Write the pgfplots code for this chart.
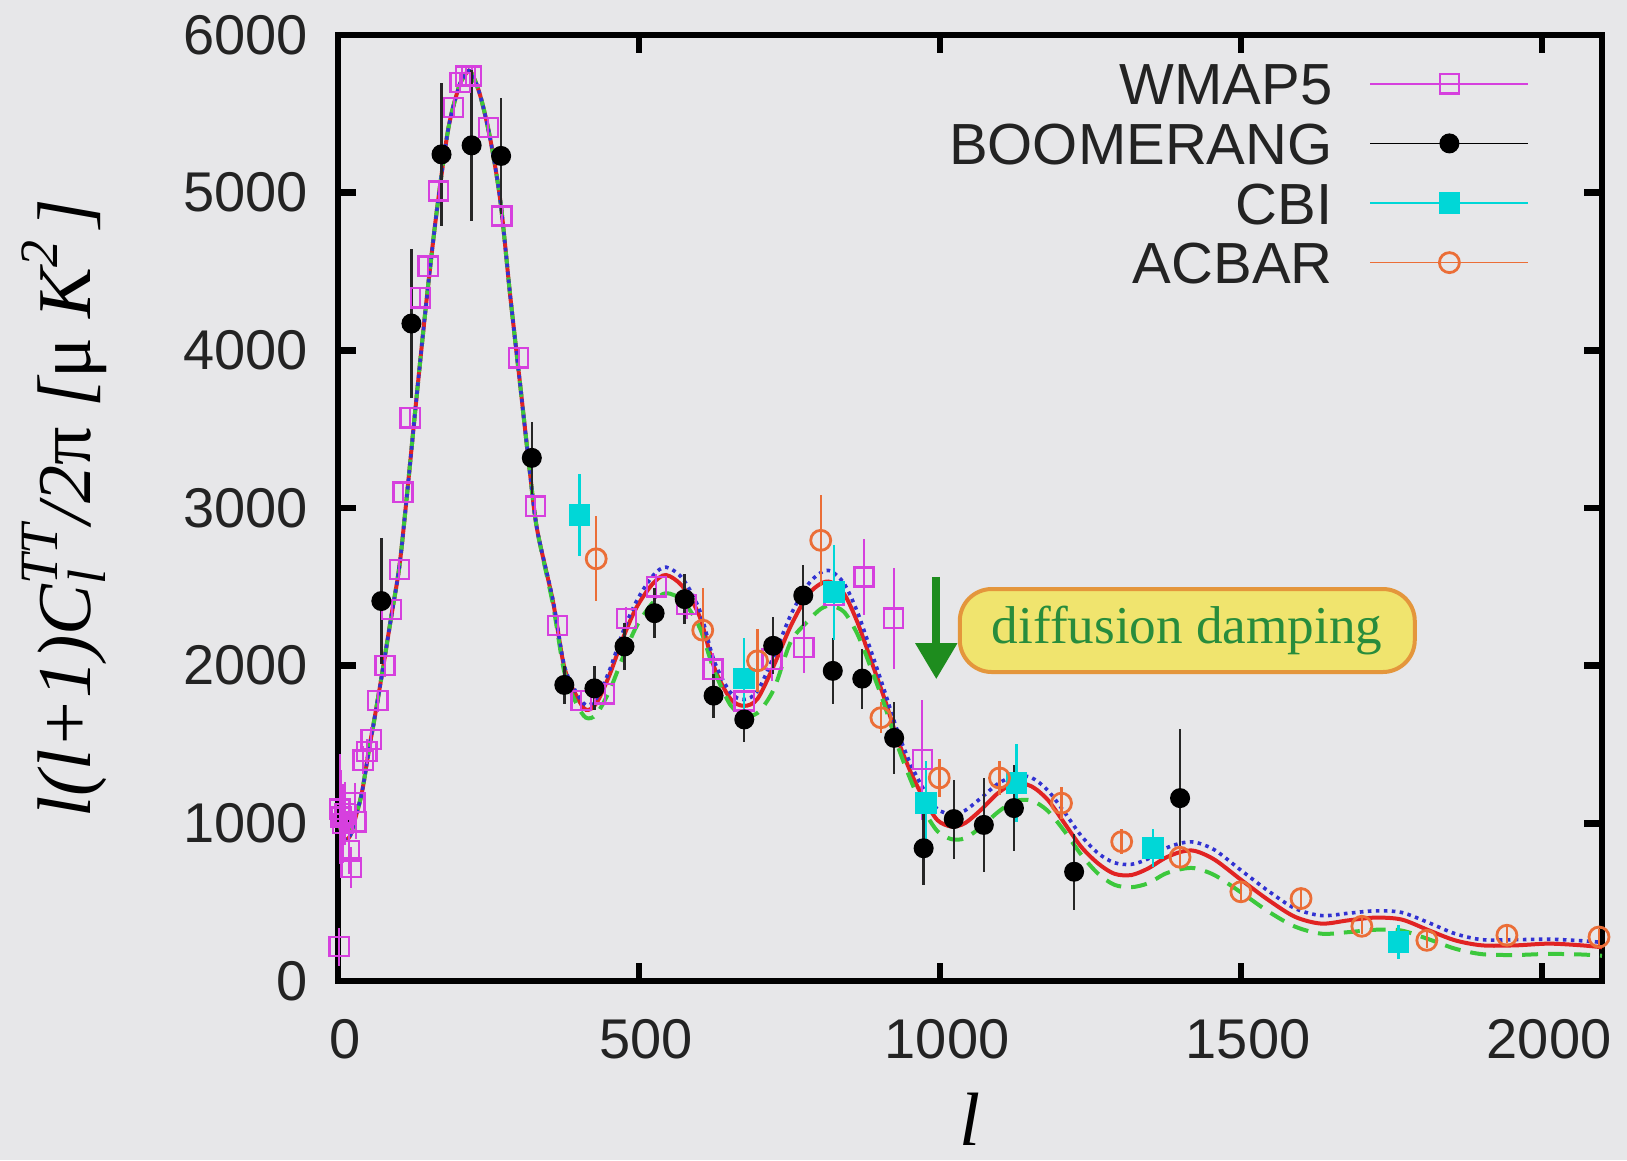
\documentclass[border=0pt]{standalone}
\usepackage{fontspec}
\setmainfont{Liberation Sans}
\newfontfamily\serif{Liberation Serif}
\usepackage{pgfplots}
\usepackage{pgfplotstable}
\pgfplotsset{compat=1.18}
\usetikzlibrary{arrows.meta}

\definecolor{bg}{RGB}{231,231,233}
\definecolor{wmap}{RGB}{214,64,222}
\definecolor{cbi}{RGB}{0,215,215}
\definecolor{acbar}{RGB}{235,110,55}
\definecolor{thred}{RGB}{225,35,35}
\definecolor{thblue}{RGB}{50,50,210}
\definecolor{thgreen}{RGB}{60,200,60}
\definecolor{ticktext}{RGB}{35,35,35}
\definecolor{anngreen}{RGB}{40,140,60}
\definecolor{boxfill}{RGB}{240,228,110}
\definecolor{boxedge}{RGB}{228,150,60}
\definecolor{arrgreen}{RGB}{30,140,30}

\pgfplotstableread{
l v e
2 218 120
3 1090 350
5 1040 300
8 1000 250
12 1060 200
19 826 150
22 720 130
28 1133 120
30 1010 110
42 1400 90
48 1456 80
55 1533 80
66 1778 70
78 2000 70
89 2356 60
102 2611 60
108 3100 60
120 3572 60
137 4333 60
150 4534 60
167 5011 60
192 5540 60
203 5698 60
212 5740 60
222 5740 60
250 5413 60
272 4852 60
300 3953 60
328 3011 60
365 2256 60
404 1778 60
443 1822 60
479 2300 70
529 2500 80
579 2389 90
623 1978 100
675 1776 120
721 2041 140
774 2116 160
824 2445 200
874 2562 240
923 2301 320
971 1404 380
}\wmapdata

\pgfplotstableread{
l v e
72 2410 400
122 4170 470
172 5243 455
222 5300 480
271 5233 370
322 3318 230
376 1878 120
426 1856 140
476 2122 150
526 2333 160
576 2422 160
624 1810 140
675 1659 140
723 2126 180
773 2445 195
822 1967 210
871 1918 190
924 1542 230
973 842 230
1023 1027 250
1073 990 300
1123 1097 270
1223 693 240
1399 1160 440
}\boomdata

\pgfplotstableread{
l v e
401 2955 260
675 1918 260
824 2466 300
977 1128 270
1127 1256 250
1354 842 120
1762 247 110
}\cbidata

\pgfplotstableread{
l v e
429 2678 270
606 2225 270
697 2031 200
802 2795 290
902 1670 100
999 1288 120
1099 1288 110
1202 1128 100
1302 884 80
1399 785 70
1500 566 60
1600 523 60
1701 347 50
1809 258 50
1942 290 50
2095 279 50
}\acbardata

\pgfplotstableread{
l r b g
2 1000 1000 1000
10 900 900 900
20 920 920 920
30 1050 1050 1050
40 1200 1200 1200
52 1480 1480 1480
60 1650 1650 1650
72 1920 1920 1920
88 2300 2300 2300
102 2630 2630 2630
114 3060 3060 3060
131 3720 3720 3720
148 4350 4350 4350
164 4880 4880 4880
183 5400 5400 5400
200 5660 5660 5660
210 5740 5740 5740
220 5770 5770 5770
236 5620 5620 5620
253 5340 5340 5340
270 4940 4940 4940
286 4350 4350 4350
303 3770 3770 3770
319 3220 3220 3220
331 2860 2860 2860
357 2410 2420 2390
376 1990 2000 1960
396 1810 1830 1760
412 1720 1750 1670
429 1760 1790 1690
451 1940 1970 1840
473 2170 2210 2050
496 2370 2410 2250
523 2520 2570 2400
545 2575 2625 2460
573 2500 2550 2410
601 2310 2350 2240
625 1990 2030 1970
652 1790 1830 1750
675 1745 1785 1690
697 1790 1840 1700
724 2000 2060 1850
752 2250 2320 2150
780 2445 2510 2280
802 2520 2590 2360
819 2530 2600 2380
841 2455 2520 2340
863 2275 2340 2200
885 2040 2100 1990
908 1790 1840 1750
930 1530 1580 1490
952 1320 1370 1270
974 1150 1210 1080
996 1020 1090 950
1019 980 1060 900
1041 1000 1080 905
1068 1085 1160 975
1096 1190 1250 1070
1124 1255 1300 1140
1152 1235 1290 1145
1179 1150 1210 1080
1207 1000 1070 950
1235 850 920 800
1263 745 810 680
1290 680 750 610
1318 672 740 595
1346 714 775 620
1374 780 840 680
1401 820 875 710
1424 825 880 715
1457 768 830 670
1501 640 700 560
1546 513 570 440
1590 407 460 345
1634 364 415 300
1679 385 430 310
1723 402 445 325
1767 390 435 320
1812 322 370 265
1856 258 300 205
1901 226 262 170
1956 226 262 165
2012 237 265 172
2067 226 255 168
2100 214 245 160
}\theory

\begin{document}
\begin{tikzpicture}
\fill[bg] (-84.5pt,-44.75pt) rectangle (322.25pt,245.25pt);
\begin{axis}[
  scale only axis,
  width=316pt, height=236.5pt,
  at={(0pt,0pt)}, anchor=south west,
  xmin=0, xmax=2100, ymin=0, ymax=6000,
  xtick={0,500,1000,1500,2000},
  ytick={0,1000,2000,3000,4000,5000,6000},
  axis line style={line width=1.7pt, black},
  major tick style={line width=1.6pt, black},
  major tick length=4.6pt,
  tick align=inside,
  tick pos=both,
  ticklabel style={font=\fontsize{14}{16}\selectfont, text=ticktext},
  /pgf/number format/assume math mode=true,
  /pgf/number format/set thousands separator={},
  yticklabel style={xshift=-4pt},
  xticklabel style={yshift=-6pt, xshift=1.8pt},
  xlabel={\serif\itshape l},
  xlabel style={at={(axis description cs:0.5,-0.1458)}, anchor=center, inner sep=0pt, font=\fontsize{18.9}{20}\selectfont},
  ylabel={\serif\itshape l(l+1)C\rlap{\raisebox{-0.45ex}{\fontsize{13.5}{13.5}\selectfont l}}\raisebox{0.95ex}{\fontsize{13.5}{13.5}\selectfont TT}/2{\upshape π} [{\upshape μ} K\raisebox{0.95ex}{\fontsize{13.5}{13.5}\selectfont 2}\,]},
  ylabel style={at={(axis description cs:-0.2168,0.5)}, anchor=center, font=\fontsize{19}{21}\selectfont},
  legend plot pos=right,
  legend cell align=right,
  legend image code/.code={%
    \draw[#1] (0pt,0pt) -- (39.5pt,0pt);%
    \draw[#1,mark repeat=2,mark phase=2] plot coordinates {(0pt,0pt) (19.75pt,0pt) (39.5pt,0pt)};},
  legend style={at={(rel axis cs:1,1)}, anchor=north east, xshift=-18pt, yshift=-6.75pt,
    draw=none, fill=none, inner sep=0pt, row sep=4.4pt, column sep=9.25pt,
    font=\fontsize{14.5}{17}\selectfont, text=ticktext,
    nodes={inner sep=0pt, text height=10.5pt, text depth=0pt}},
]
% theory curves
\addplot[thred, line width=1pt, smooth, forget plot] table[x=l,y=r] {\theory};
\addplot[thgreen, line width=1pt, dash pattern=on 4pt off 2.5pt, smooth, forget plot] table[x=l,y=g] {\theory};
\addplot[thblue, line width=0.9pt, dash pattern=on 0.9pt off 1.1pt, smooth, forget plot] table[x=l,y=b] {\theory};

% data
\addplot[only marks, wmap, mark=square, mark size=2.4pt, mark options={line width=0.6pt},
  error bars/.cd, y dir=both, y explicit, error mark=none, error bar style={line width=0.5pt, wmap}]
  table[x=l,y=v,y error=e] {\wmapdata};
\addplot[only marks, black, mark=*, mark size=2.3pt,
  error bars/.cd, y dir=both, y explicit, error mark=none, error bar style={line width=0.6pt, black!85}]
  table[x=l,y=v,y error=e] {\boomdata};
\addplot[only marks, cbi, mark=square*, mark size=2.5pt,
  error bars/.cd, y dir=both, y explicit, error mark=none, error bar style={line width=0.6pt, cbi}]
  table[x=l,y=v,y error=e] {\cbidata};
\addplot[only marks, acbar, mark=o, mark size=2.5pt, mark options={line width=0.7pt},
  error bars/.cd, y dir=both, y explicit, error mark=none, error bar style={line width=0.6pt, acbar}]
  table[x=l,y=v,y error=e] {\acbardata};

\legend{}
\addlegendimage{wmap, line width=0.5pt, mark=square, mark size=2.4pt, mark options={line width=0.6pt}}
\addlegendentry{WMAP5}
\addlegendimage{black, line width=0.5pt, mark=*, mark size=2.3pt}
\addlegendentry{BOOMERANG}
\addlegendimage{cbi, line width=0.5pt, mark=square*, mark size=2.5pt}
\addlegendentry{CBI}
\addlegendimage{acbar, line width=0.6pt, mark=o, mark size=2.5pt, mark options={line width=0.7pt}}
\addlegendentry{ACBAR}

\draw[arrgreen, line width=2pt, -{Triangle[width=10pt,length=9pt]}] (axis cs:994,2564) -- (axis cs:994,1914);
\node[draw=boxedge, fill=boxfill, rounded corners=8pt, line width=1pt, minimum width=113.75pt, minimum height=20.75pt, inner sep=0pt, text=anngreen, font=\serif\fontsize{13.3}{15}\selectfont] at (axis cs:1411,2223) {diffusion damping};
\end{axis}
\pgfresetboundingbox
\path[use as bounding box] (-84.5pt,-44.75pt) rectangle (322.25pt,245.25pt);
\end{tikzpicture}
\end{document}
